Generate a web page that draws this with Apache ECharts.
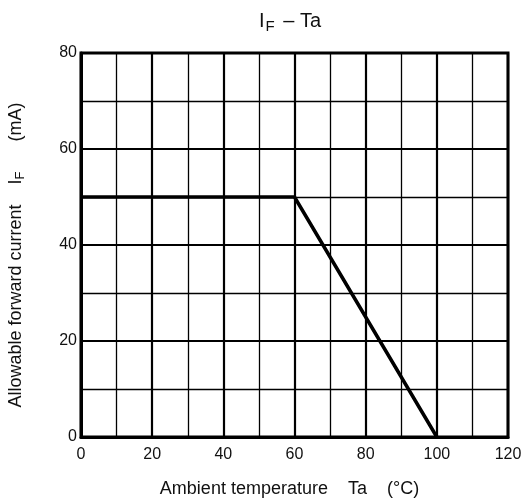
<!DOCTYPE html>
<html>
<head>
<meta charset="utf-8">
<script src="https://cdn.jsdelivr.net/npm/echarts@6/dist/echarts.min.js"></script>
<style>html,body{margin:0;padding:0;background:#fff;}#c{width:522px;height:499px;}</style>
</head>
<body>
<div id="c"></div>
<script>
var temps = [0, 60, 100];
var currents = [50, 50, 0];
var xTicks = [0, 20, 40, 60, 80, 100, 120];
var yTicks = [0, 20, 40, 60, 80];

var chart = echarts.init(document.getElementById('c'), null, {renderer: 'canvas'});
var font = 'Liberation Sans, Arial, sans-serif';
chart.setOption({
  animation: false,
  backgroundColor: '#fff',
  title: {
    text: '{i|I}{s|F}{t| – Ta}',
    left: 285, top: 4, textAlign: 'center',
    textStyle: {
      fontWeight: 'normal',
      rich: {
        i: {fontFamily: font, fontSize: 20, fontWeight: 'normal', color: '#111'},
        s: {fontFamily: font, fontSize: 15, fontWeight: 'normal', color: '#111', verticalAlign: 'bottom', padding: [10, 3, 0, 1]},
        t: {fontFamily: font, fontSize: 20, fontWeight: 'normal', color: '#111'}
      }
    }
  },
  grid: {left: 81, top: 53, width: 427, height: 384, outerBoundsMode: 'none', containLabel: false,
    show: true, borderColor: '#000', borderWidth: 3, backgroundColor: 'transparent'},
  xAxis: {
    type: 'value', min: 0, max: 120, interval: 20,
    name: 'Ambient temperature    Ta    (°C)', nameLocation: 'middle', nameGap: 43,
    nameTextStyle: {fontFamily: font, fontSize: 18, color: '#111', padding: [0, 10, 0, 0]},
    axisLine: {show: true, lineStyle: {color: '#000', width: 3}},
    axisTick: {show: false},
    axisLabel: {fontFamily: font, fontSize: 16, color: '#111', margin: 10,
      formatter: function (v) { return xTicks.indexOf(v) >= 0 ? String(v) : ''; }},
    splitLine: {show: true, lineStyle: {color: '#000', width: 2.2}},
    minorTick: {show: false, splitNumber: 2},
    minorSplitLine: {show: true, lineStyle: {color: '#000', width: 1.3}}
  },
  yAxis: {
    type: 'value', min: 0, max: 80, interval: 20,
    name: '{a|Allowable forward current    I}{s|F}{a|      (mA)}', nameLocation: 'middle', nameGap: 54,
    nameTextStyle: {fontFamily: font, fontSize: 18, color: '#111', padding: [0, 20, 0, 0],
      rich: {
        a: {fontFamily: font, fontSize: 18, color: '#111'},
        s: {fontFamily: font, fontSize: 13, color: '#111', verticalAlign: 'bottom', padding: [8, 0, 0, 0]}
      }},
    axisLine: {show: true, lineStyle: {color: '#000', width: 3}},
    axisTick: {show: false},
    axisLabel: {fontFamily: font, fontSize: 16, color: '#111', margin: 4,
      formatter: function (v) { return yTicks.indexOf(v) >= 0 ? String(v) : ''; }},
    splitLine: {show: true, lineStyle: {color: '#000', width: 2.2}},
    minorTick: {show: false, splitNumber: 2},
    minorSplitLine: {show: true, lineStyle: {color: '#000', width: 1.3}}
  },
  series: [{
    type: 'line',
    data: temps.map(function (t, i) { return [t, currents[i]]; }),
    symbol: 'none',
    lineStyle: {color: '#000', width: 3.5},
    z: 5
  }]
});
</script>
</body>
</html>
